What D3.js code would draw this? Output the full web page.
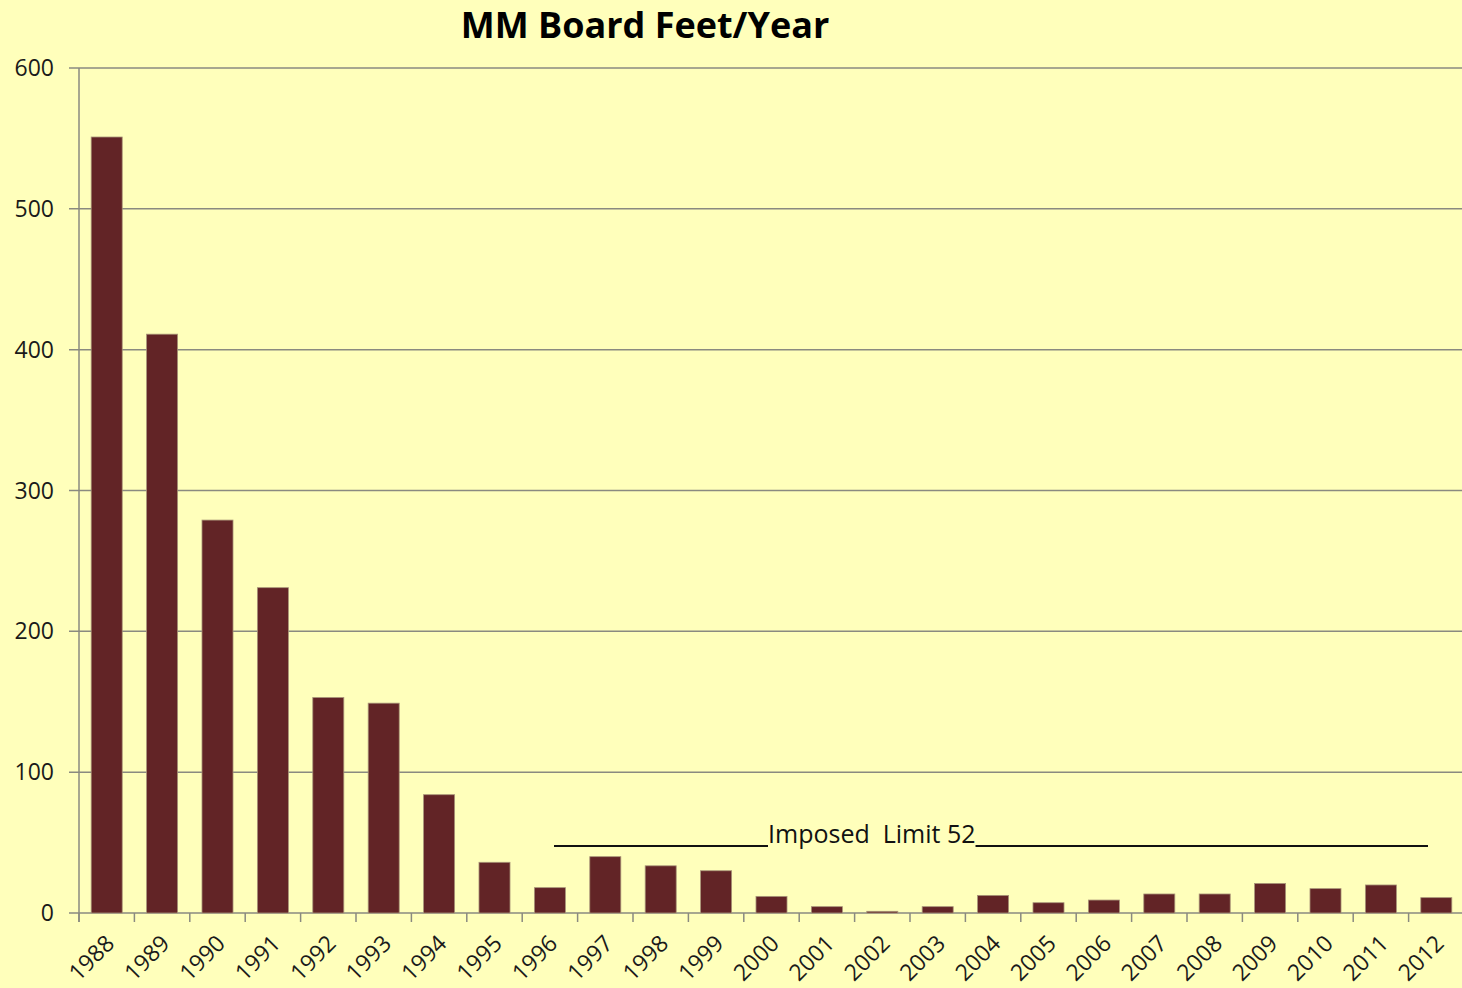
<!DOCTYPE html>
<html>
<head>
<meta charset="utf-8">
<script src="https://cdn.jsdelivr.net/npm/d3@7"></script>
<style>
  html, body { margin: 0; padding: 0; background: #ffffbb; }
  svg { display: block; }
</style>
</head>
<body>
<script>
const years = ["1988","1989","1990","1991","1992","1993","1994","1995","1996","1997","1998","1999",
  "2000","2001","2002","2003","2004","2005","2006","2007","2008","2009","2010","2011","2012"];
const boardFeet = [551, 411, 279, 231, 153, 149, 84, 36, 18, 40, 33.5, 30,
  11.8, 4.5, 1.2, 4.5, 12.5, 7.3, 9.2, 13.5, 13.5, 21, 17.3, 19.9, 10.9];
const yTicks = [0, 100, 200, 300, 400, 500, 600];
const limitLabel = "Imposed  Limit 52";
const limitValue = 47.5; // drawn as underscore line, sits a little under 52

const width = 1462, height = 988;
const margin = {top: 68, right: -2, bottom: 75, left: 79};

const svg = d3.select("body").append("svg")
    .attr("width", width)
    .attr("height", height)
    .style("font-family", "'Open Sans', sans-serif");

svg.append("rect")
    .attr("width", width)
    .attr("height", height)
    .attr("fill", "#ffffbb");

const x = d3.scaleBand()
    .domain(years)
    .range([margin.left, width - margin.right])
    .paddingInner(0.44)
    .paddingOuter(0.22);

const y = d3.scaleLinear()
    .domain([0, 600])
    .range([height - margin.bottom, margin.top]);

// gridlines + y ticks
svg.append("g")
    .attr("stroke", "#8a8a80")
    .attr("stroke-width", 1.5)
  .selectAll("line")
  .data(yTicks)
  .join("line")
    .attr("x1", margin.left - 10)
    .attr("x2", width)
    .attr("y1", d => y(d))
    .attr("y2", d => y(d));

svg.append("g")
    .attr("fill", "#1a1a1a")
    .style("font-size", "23px")
    .attr("text-anchor", "end")
  .selectAll("text")
  .data(yTicks)
  .join("text")
    .attr("x", 54)
    .attr("y", d => y(d) + 8)
    .text(d => d);

// bars
svg.append("g")
    .attr("fill", "#622426")
    .attr("stroke", "#a89478")
    .attr("stroke-width", 0.8)
  .selectAll("rect")
  .data(years.map((yr, i) => [yr, boardFeet[i]]))
  .join("rect")
    .attr("x", ([yr]) => x(yr))
    .attr("width", x.bandwidth())
    .attr("y", ([, v]) => y(v))
    .attr("height", ([, v]) => y(0) - y(v));

// y axis line
svg.append("line")
    .attr("stroke", "#8a8a80")
    .attr("stroke-width", 1.5)
    .attr("x1", margin.left).attr("x2", margin.left)
    .attr("y1", y(600)).attr("y2", y(0) + 9);

// x axis ticks between categories
const step = x.step();
svg.append("g")
    .attr("stroke", "#8a8a80")
    .attr("stroke-width", 1.5)
  .selectAll("line")
  .data(years)
  .join("line")
    .attr("x1", d => x(d) - step * 0.22)
    .attr("x2", d => x(d) - step * 0.22)
    .attr("y1", y(0))
    .attr("y2", y(0) + 9);

svg.append("g")
    .attr("fill", "#1a1a1a")
    .style("font-size", "23px")
    .attr("text-anchor", "end")
  .selectAll("text")
  .data(years)
  .join("text")
    .attr("transform", d => `translate(${x(d) + x.bandwidth() / 2 + 9},${y(0) + 32}) rotate(-45)`)
    .text(d => d);

// imposed limit annotation
const ly = y(limitValue);
const label = svg.append("text")
    .attr("x", 768)
    .attr("y", ly - 3)
    .attr("fill", "#111")
    .style("font-size", "25px")
    .style("white-space", "pre")
    .attr("xml:space", "preserve")
    .text(limitLabel);
const lw = label.node().getComputedTextLength();

svg.append("g")
    .attr("stroke", "#111")
    .attr("stroke-width", 2)
  .selectAll("line")
  .data([[554, 768], [768 + lw, 1428]])
  .join("line")
    .attr("x1", d => d[0])
    .attr("x2", d => d[1])
    .attr("y1", ly)
    .attr("y2", ly);

// title
svg.append("text")
    .attr("x", 645)
    .attr("y", 38)
    .attr("text-anchor", "middle")
    .attr("fill", "#000")
    .style("font-size", "36px")
    .style("font-weight", "bold")
    .text("MM Board Feet/Year");
</script>
</body>
</html>
